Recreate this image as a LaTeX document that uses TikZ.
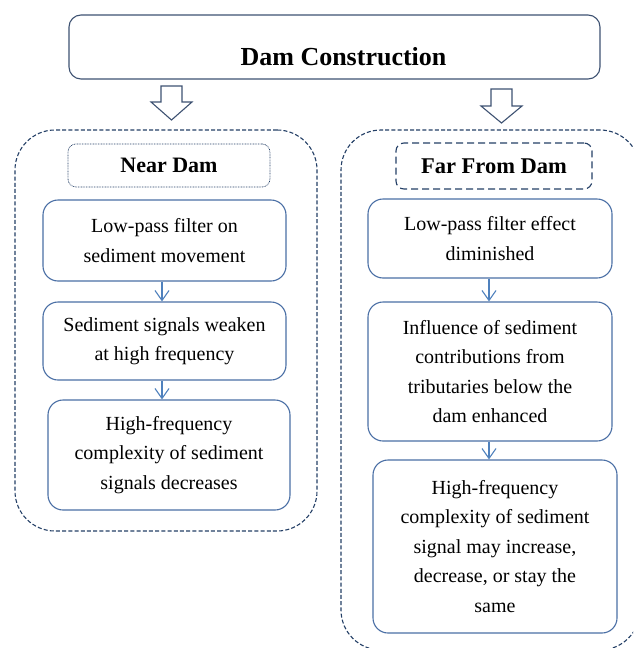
\documentclass[tikz,border=0pt]{standalone}
\usepackage{fontspec}
\setmainfont{Liberation Serif}
\usetikzlibrary{arrows.meta}
\definecolor{navy}{HTML}{243F66}
\definecolor{boxblue}{HTML}{4A6FA5}
\definecolor{arrowblue}{HTML}{4F81BD}
\definecolor{slate}{HTML}{3E5272}
\tikzset{
  topbox/.style={draw=slate, line width=1.1pt, rounded corners=12pt, minimum width=531pt, minimum height=64pt, inner sep=0pt},
  cont/.style={draw=navy, line width=1.1pt, dash pattern=on 4pt off 2.2pt, rounded corners=40pt, inner sep=0pt},
  hdrnear/.style={draw=navy, line width=0.7pt, dash pattern=on 0.8pt off 0.8pt, rounded corners=8pt, inner sep=0pt, font=\fontsize{22}{26}\selectfont\bfseries},
  hdrfar/.style={draw=navy, line width=1.1pt, dash pattern=on 7pt off 4pt, rounded corners=8pt, inner sep=0pt, font=\fontsize{22.5}{26}\selectfont\bfseries},
  stepbox/.style={draw=boxblue, line width=1.1pt, rounded corners=15pt, inner sep=0pt, align=center, font=\fontsize{20}{29.5}\selectfont},
  conn/.style={draw=arrowblue, line width=1.1pt, -{Straight Barb[length=10pt,width=14pt,line width=1.1pt]}},
  blockarrow/.style={draw=slate, line width=1.1pt, fill=white, line join=miter}
}
\begin{document}
\begin{tikzpicture}[x=1pt,y=-1pt]
\useasboundingbox (0,0) rectangle (633,648);
\clip (0,0) rectangle (633,648);
\fill[white] (0,0) rectangle (633,648);

% top box
\node[topbox] (top) at (334.5,47) {};
\node[anchor=base, font=\fontsize{26}{30}\selectfont\bfseries] (toptext) at (343.5,65) {Dam Construction};

% containers
\node[cont, minimum width=302pt, minimum height=401pt] (leftc) at (166,330.5) {};
\node[cont, minimum width=299pt, minimum height=520pt] (rightc) at (490.5,390) {};

% block arrows
\draw[blockarrow] (161,86) -- (182,86) -- (182,102) -- (192,102) -- (171.5,120) -- (151,102) -- (161,102) -- cycle;
\draw[blockarrow] (491,89) -- (512,89) -- (512,106) -- (522,106) -- (501.5,123) -- (481,106) -- (491,106) -- cycle;

% headers
\node[hdrnear, minimum width=202pt, minimum height=43pt] (near) at (169,165.5) {\raisebox{-3pt}{Near Dam}};
\node[hdrfar, minimum width=196pt, minimum height=46pt] (far) at (494,166) {\raisebox{-3pt}{Far From Dam}};

% left column
\node[stepbox, minimum width=243pt, minimum height=81pt] (L1) at (164.5,240.5) {Low-pass filter on\\sediment movement};
\node[stepbox, minimum width=243pt, minimum height=78pt] (L2) at (164.5,341) {Sediment signals weaken\\at high frequency};
\node[stepbox, minimum width=242pt, minimum height=110pt] (L3) at (169,455) {High-frequency\\complexity of sediment\\signals decreases};

% right column
\node[stepbox, minimum width=244pt, minimum height=79pt] (R1) at (490,238.5) {Low-pass filter effect\\diminished};
\node[stepbox, minimum width=244pt, minimum height=139pt] (R2) at (490,371.5) {Influence of sediment\\contributions from\\tributaries below the\\dam enhanced};
\node[stepbox, minimum width=244pt, minimum height=173pt] (R3) at (495,546.5) {High-frequency\\complexity of sediment\\signal may increase,\\decrease, or stay the\\same};

% connectors
\draw[conn] ([xshift=-2.5pt]L1.south) -- ([xshift=-2.5pt]L1.south |- L2.north);
\draw[conn] ([xshift=-2.5pt]L2.south) -- ([xshift=-2.5pt]L2.south |- L3.north);
\draw[conn] ([xshift=-1pt]R1.south) -- ([xshift=-1pt]R1.south |- R2.north);
\draw[conn] ([xshift=-1pt]R2.south) -- ([xshift=-1pt]R2.south |- R3.north);
\end{tikzpicture}
\end{document}
